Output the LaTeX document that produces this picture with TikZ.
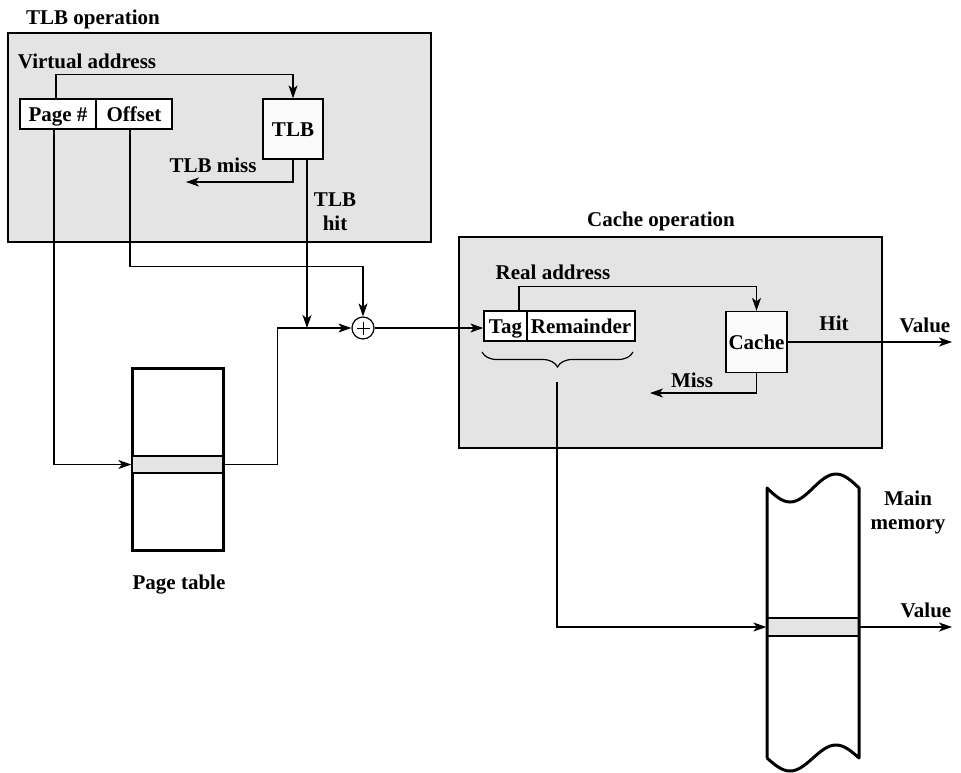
\documentclass[tikz,border=0pt]{standalone}
\usepackage{fontspec}
\setmainfont{Liberation Serif}
\usetikzlibrary{arrows.meta,decorations.pathreplacing,calc}
\definecolor{boxgray}{HTML}{E4E4E4}
\definecolor{paper}{HTML}{FBFBFB}
\begin{document}
\begin{tikzpicture}[x=1pt,y=-1pt,
  txt/.style={font=\fontsize{21}{24}\selectfont\bfseries},
  lbl/.style={txt, inner sep=0pt, text height=14pt, text depth=0pt},
  lbl2/.style={txt, inner sep=0pt, align=center},
  arr/.style={line width=1.2pt, -{Stealth[length=13pt,width=9pt,inset=3.5pt]}},
  region/.style={draw, line width=1.3pt, fill=boxgray, inner sep=0pt},
  field/.style={lbl, draw, line width=1.3pt, fill=white, minimum height=30pt},
  unit/.style={lbl, draw, line width=1.3pt, fill=paper},
  tablerow/.style={draw, line width=1.3pt, fill=boxgray, inner sep=0pt},
  bracestyle/.style={line width=1.2pt, decorate, decoration={brace, amplitude=15pt}}
  ]
\useasboundingbox (0,0) rectangle (961,772);

% TLB operation region
\node[region, minimum width=423pt, minimum height=209pt] (tlbop) at (219.5,137.5) {};
\node[lbl] (tlbtitle) at (93,17) {TLB operation};
\node[lbl] (vaddr) at (87,61) {Virtual address};
\node[field, minimum width=76pt] (pagenum) at (58,114) {Page \#};
\node[field, minimum width=76pt] (offset) at (134,114) {Offset};
\node[unit, minimum width=60pt, minimum height=60pt] (tlb) at (293,129) {TLB};
\node[lbl] (tlbmiss) at (213,165) {TLB miss};
\node[lbl2] (tlbhit) at (335,211.5) {TLB\\hit};

% Cache operation region
\node[region, minimum width=423pt, minimum height=211pt] (cacheop) at (670.5,342.5) {};
\node[lbl] (cachetitle) at (661,219) {Cache operation};
\node[lbl] (raddr) at (553,272) {Real address};
\node[field, minimum width=43pt] (tag) at (505.5,326) {Tag};
\node[field, minimum width=108pt] (rem) at (581,326) {Remainder};
\node[unit, minimum width=61pt, minimum height=61pt] (cache) at (756.5,342) {Cache};
\node[lbl] (hitlbl) at (834,323) {Hit};
\node[lbl] (value1) at (925,325) {Value};
\node[lbl] (misslbl) at (692,380) {Miss};

% Page table
\node[draw, line width=3pt, fill=white, minimum width=91pt, minimum height=182pt, inner sep=0pt] (ptable) at (177.5,459) {};
\node[tablerow, minimum width=91pt, minimum height=17pt] (prow) at (177.5,464.5) {};
\node[lbl] (ptlbl) at (179,582) {Page table};

% adder
\node[draw, circle, line width=1.2pt, minimum size=22pt, inner sep=0pt, fill=white] (plus) at (363,328) {};
\draw[line width=0.9pt] ($(plus.center)+(-6.5,0)$) -- ($(plus.center)+(6.5,0)$);
\draw[line width=0.9pt] ($(plus.center)+(0,-6.5)$) -- ($(plus.center)+(0,6.5)$);

% Main memory
\fill[white] (767,488) sin (790,502) cos (813,488) sin (836,474) cos (859,488)
  -- (859,758) sin (836,745) cos (813,758) sin (790,771) cos (767,758) -- cycle;
\node[tablerow, minimum width=92pt, minimum height=18pt] (memrow) at (813,627) {};
\draw[line width=3pt, line join=round] (767,758) -- (767,488) sin (790,502) cos (813,488) sin (836,474) cos (859,488)
  -- (859,758) sin (836,745) cos (813,758) sin (790,771) cos (767,758);
\node[lbl2] (mmlbl) at (908,512) {Main\\memory};
\node[lbl] (value2) at (926,610) {Value};

% coordinates for free ends
\coordinate (missend) at (186,182);
\coordinate (hitjoin) at (307,328);
\coordinate (missend2) at (650,393);
\coordinate (val1) at (952,342);
\coordinate (val2) at (952,627);
\coordinate (braceR) at (633,352);
\coordinate (braceL) at (482,352);
\coordinate (bracefoot) at (557,382);

% connectors
\draw[arr] ([xshift=-2pt]pagenum.north) -- ++(0,-24) -| (tlb.north);
\draw[arr] (tlb.south) |- (missend);
\draw[arr] ([xshift=14pt]tlb.south) -- (hitjoin);
\draw[arr] ([xshift=-4pt]offset.south) -- ++(0,137) -| (plus.north);
\draw[arr] ([xshift=-4pt]pagenum.south) |- (prow.west);
\draw[arr] (prow.east) -- ++(54,0) |- (plus.west);
\draw[arr] (plus.east) -- (plus.east -| tag.west);
\draw[arr] ([xshift=13.5pt]tag.north) -- ++(0,-24) -| (cache.north);
\draw[arr] (cache.east) -- (val1);
\draw[arr] (cache.south) |- (missend2);
\draw[bracestyle] (braceR) -- (braceL);
\draw[arr] (bracefoot) |- (memrow.west);
\draw[arr] (memrow.east) -- (val2);
\end{tikzpicture}
\end{document}
